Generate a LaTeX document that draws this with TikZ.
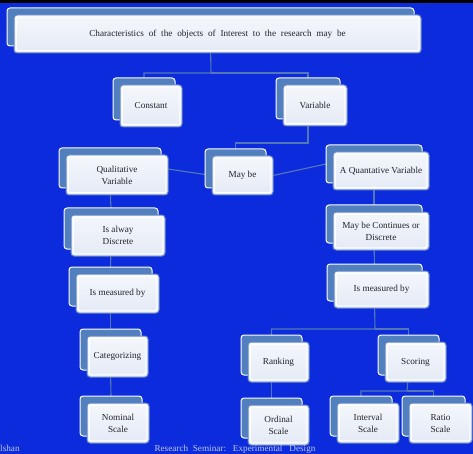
\documentclass[tikz,border=0pt]{standalone}
\usepackage{fontspec}
\setmainfont{Liberation Serif}
\usetikzlibrary{calc}
\definecolor{bgblue}{RGB}{12,43,220}
\definecolor{backblue}{RGB}{82,128,190}
\definecolor{edgeblue}{RGB}{96,132,196}
\definecolor{linkblue}{RGB}{84,120,182}
\definecolor{cardtop}{RGB}{244,247,252}
\definecolor{cardbot}{RGB}{228,234,245}
\definecolor{txt}{RGB}{35,35,40}
\definecolor{foot}{RGB}{190,200,236}
\pgfdeclarelayer{canvas}
\pgfdeclarelayer{bg}
\pgfsetlayers{canvas,bg,main}
\tikzset{
  backcard/.style={draw=white, line width=1pt, fill=backblue, rounded corners=3pt, inner sep=0pt, outer sep=0pt},
  frontcard/.style={draw=edgeblue, line width=1pt, top color=cardtop, bottom color=cardbot, rounded corners=3pt,
     inner sep=0pt, outer sep=0pt, align=center, text=txt, font=\fontsize{9.2}{12}\selectfont,
     path picture={\draw[white, line width=1.1pt, rounded corners=2pt]
        ([shift={(2.2pt,-2.2pt)}]path picture bounding box.north west) rectangle
        ([shift={(-2.2pt,2.2pt)}]path picture bounding box.south east);}},
  link/.style={draw=linkblue, line width=1.1pt},
  foottext/.style={text=foot, font=\fontsize{9.2}{10}\selectfont, inner sep=0pt}
}
\newcommand\card[6]{%
  \pgfmathsetmacro\cw{#4-#2}\pgfmathsetmacro\ch{#5-#3}%
  \pgfmathsetmacro\cx{(#2+#4)/2}\pgfmathsetmacro\cy{(#3+#5)/2}%
  \node[backcard, minimum width=\cw pt, minimum height=\ch pt] (#1b) at (\cx-7,\cy-7) {};
  \node[frontcard, minimum width=\cw pt, minimum height=\ch pt] (#1) at (\cx,\cy) {#6};
}
\begin{document}
\begin{tikzpicture}[x=1pt,y=-1pt]
\begin{pgfonlayer}{canvas}
\fill[bgblue] (0,0) rectangle (473,454);
\fill[black] (0,0) rectangle (473,3.5);
\end{pgfonlayer}
\useasboundingbox (0,0) rectangle (473,454);

\card{top}{14}{15}{421}{53}{\spaceskip=4.8pt Characteristics of the objects of Interest to the research may be}
\card{const}{120}{85}{182}{127}{Constant}
\card{var}{283}{85}{347}{126}{Variable}
\card{qual}{66}{155}{168}{195}{Qualitative\\Variable}
\card{maybe}{212}{156}{273}{195}{May be}
\card{quant}{333}{152}{429}{190}{A Quantative Variable}
\card{alway}{71}{215}{165}{256}{Is alway\\Discrete}
\card{cont}{333}{212}{429}{250}{May be Continues or\\Discrete}
\card{measl}{76}{274}{159}{313}{Is measured by}
\card{measr}{334}{271}{429}{308}{Is measured by}
\card{categ}{87}{336}{148}{377}{Categorizing}
\card{rank}{248}{342}{309}{382}{Ranking}
\card{score}{385}{342}{446}{382}{Scoring}
\card{nom}{87}{403}{149}{443}{Nominal\\Scale}
\card{ord}{248}{405}{309}{445}{Ordinal\\Scale}
\card{inter}{337}{403}{399}{443}{Interval\\Scale}
\card{ratio}{409}{403}{472}{443}{Ratio\\Scale}

\coordinate (bus1) at (211,73);
\coordinate (bus2) at (308,143);
\coordinate (bus3) at (375,329);
\coordinate (bus4) at (407,391);

\begin{pgfonlayer}{bg}
\draw[link] (topb.south) -- (bus1) -| (constb.north);
\draw[link] (bus1) -| (varb.north);
\draw[link] (varb.south) -- (bus2) -| (maybeb.north);
\draw[link] (qualb.east) -- (maybe.west);
\draw[link] (maybe.east) -- (quantb.west);
\draw[link] (qualb.south) -- (alwayb.north);
\draw[link] (alwayb.south) -- (measlb.north);
\draw[link] (measlb.south) -- (categb.north);
\draw[link] (categb.south) -- (nomb.north);
\draw[link] (quantb.south) -- (contb.north);
\draw[link] (contb.south) -- (measrb.north);
\draw[link] (measrb.south) -- (bus3) -| (rankb.north);
\draw[link] (bus3) -| (scoreb.north);
\draw[link] (rankb.south) -- (ordb.north);
\draw[link] (scoreb.south) -- (bus4) -| (interb.north);
\draw[link] (bus4) -| (ratiob.north);
\end{pgfonlayer}

\node[foottext, anchor=base west] (author) at (0,451) {lshan};
\node[foottext, anchor=base] (footer) at (235,451) {Research\ \ Seminar:\ \ \ Experimental\ \ \ Design};
\end{tikzpicture}
\end{document}
